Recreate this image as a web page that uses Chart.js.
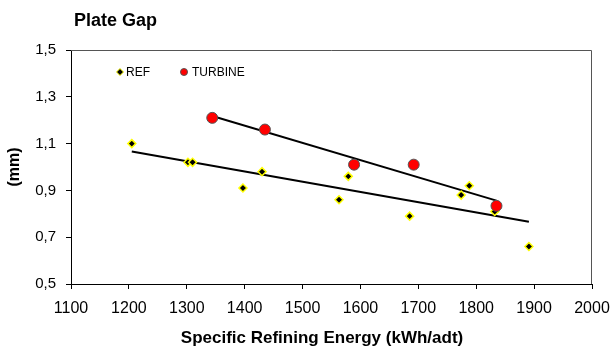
<!DOCTYPE html>
<html>
<head>
<meta charset="utf-8">
<script src="https://cdn.jsdelivr.net/npm/chart.js@4.4.0/dist/chart.umd.min.js"></script>
<style>
  html, body { margin: 0; padding: 0; background: #fff; }
  #wrap { width: 612px; height: 346px; }
</style>
</head>
<body>
<div id="wrap"><canvas id="chart" width="612" height="346"></canvas></div>
<script>
// values
const refEnergy = [1205, 1302, 1310, 1397, 1430, 1563, 1579, 1685, 1774, 1788, 1832, 1891];
const refGap = [1.10, 1.02, 1.02, 0.91, 0.98, 0.86, 0.96, 0.79, 0.88, 0.92, 0.81, 0.66];
const turbineEnergy = [1344, 1435, 1589, 1692, 1835];
const turbineGap = [1.21, 1.16, 1.01, 1.01, 0.834];

const FONT = "'Liberation Sans', Arial, sans-serif";

function points(xs, ys) {
  return xs.map((x, i) => ({ x: x, y: ys[i] }));
}

// linear trendline, like the spreadsheet one
function trend(xs, ys) {
  const n = xs.length;
  const mx = xs.reduce((a, b) => a + b, 0) / n;
  const my = ys.reduce((a, b) => a + b, 0) / n;
  let sxy = 0, sxx = 0;
  for (let i = 0; i < n; i++) {
    sxy += (xs[i] - mx) * (ys[i] - my);
    sxx += (xs[i] - mx) * (xs[i] - mx);
  }
  const b = sxy / sxx;
  const a = my - b * mx;
  const x0 = Math.min(...xs), x1 = Math.max(...xs);
  return [{ x: x0, y: a + b * x0 }, { x: x1, y: a + b * x1 }];
}

const refStyle = { pointStyle: "rectRot", radius: 4, backgroundColor: "#000", borderColor: "#ffff00", borderWidth: 1.5 };
const turbStyle = { pointStyle: "circle", radius: 5.5, backgroundColor: "#ff0000", borderColor: "#555", borderWidth: 1 };

// title, frame, x axis title and the small legend inside the plot
const extras = {
  id: "extras",
  afterDraw(chart) {
    const ctx = chart.ctx;
    const a = chart.chartArea;
    ctx.save();
    ctx.strokeStyle = "#555";
    ctx.lineWidth = 1;
    ctx.beginPath();
    ctx.moveTo(a.left, a.top + 0.5);
    ctx.lineTo(a.right - 0.5, a.top + 0.5);
    ctx.lineTo(a.right - 0.5, a.bottom);
    ctx.stroke();

    ctx.fillStyle = "#000";
    ctx.font = "bold 18px " + FONT;
    ctx.textBaseline = "alphabetic";
    ctx.fillText("Plate Gap", 74, 26);

    ctx.font = "bold 17px " + FONT;
    ctx.textAlign = "center";
    ctx.fillText("Specific Refining Energy (kWh/adt)", 322, 343);
    ctx.textAlign = "left";

    ctx.font = "12px " + FONT;
    ctx.textBaseline = "middle";
    ctx.fillStyle = refStyle.backgroundColor;
    ctx.strokeStyle = refStyle.borderColor;
    Chart.helpers.drawPoint(ctx, { pointStyle: "rectRot", radius: 3.5, borderWidth: 1 }, 120, 72);
    ctx.fillStyle = "#000";
    ctx.fillText("REF", 126, 72.5);

    ctx.fillStyle = turbStyle.backgroundColor;
    ctx.strokeStyle = turbStyle.borderColor;
    Chart.helpers.drawPoint(ctx, { pointStyle: "circle", radius: 3.5, borderWidth: 1 }, 184, 72);
    ctx.fillStyle = "#000";
    ctx.fillText("TURBINE", 192, 72.5);
    ctx.restore();
  }
};

new Chart(document.getElementById("chart").getContext("2d"), {
  type: "scatter",
  data: {
    datasets: [
      {
        label: "REF trend",
        data: trend(refEnergy, refGap),
        showLine: true,
        borderColor: "#000",
        borderWidth: 2,
        pointRadius: 0,
        order: 2
      },
      {
        label: "TURBINE trend",
        data: trend(turbineEnergy, turbineGap),
        showLine: true,
        borderColor: "#000",
        borderWidth: 2,
        pointRadius: 0,
        order: 2
      },
      {
        label: "REF",
        data: points(refEnergy, refGap),
        pointStyle: refStyle.pointStyle,
        pointRadius: refStyle.radius,
        pointBackgroundColor: refStyle.backgroundColor,
        pointBorderColor: refStyle.borderColor,
        pointBorderWidth: refStyle.borderWidth,
        order: 1
      },
      {
        label: "TURBINE",
        data: points(turbineEnergy, turbineGap),
        pointStyle: turbStyle.pointStyle,
        pointRadius: turbStyle.radius,
        pointBackgroundColor: turbStyle.backgroundColor,
        pointBorderColor: turbStyle.borderColor,
        pointBorderWidth: turbStyle.borderWidth,
        order: 0
      }
    ]
  },
  options: {
    responsive: false,
    animation: false,
    layout: { padding: { left: 0, top: 50, right: 20, bottom: 0 } },
    plugins: {
      legend: { display: false },
      tooltip: { enabled: false }
    },
    scales: {
      x: {
        type: "linear",
        min: 1100,
        max: 2000,
        afterFit: s => {
          s.height = 62;
          s.paddingLeft = 0;
          s.paddingRight = 0;
        },
        ticks: {
          stepSize: 100,
          color: "#000",
          font: { family: FONT, size: 16 },
          padding: 10,
          maxRotation: 0,
          callback: v => String(v)
        },
        grid: { drawOnChartArea: false, drawTicks: true, tickLength: 5, color: "#000" },
        border: { display: true, color: "#000", width: 1 }
      },
      y: {
        min: 0.5,
        max: 1.5,
        afterFit: s => {
          s.width = 71;
          s.paddingTop = 0;
          s.paddingBottom = 0;
        },
        ticks: {
          stepSize: 0.2,
          color: "#000",
          font: { family: FONT, size: 15 },
          padding: 10,
          callback: v => v.toFixed(1).replace(".", ",")
        },
        grid: { drawOnChartArea: false, drawTicks: true, tickLength: 5, color: "#000" },
        border: { display: true, color: "#000", width: 1 },
        title: { display: true, text: "(mm)", color: "#000", font: { family: FONT, size: 16, weight: "bold" }, padding: { top: 5, bottom: 0 } }
      }
    }
  },
  plugins: [extras]
});
</script>
</body>
</html>
